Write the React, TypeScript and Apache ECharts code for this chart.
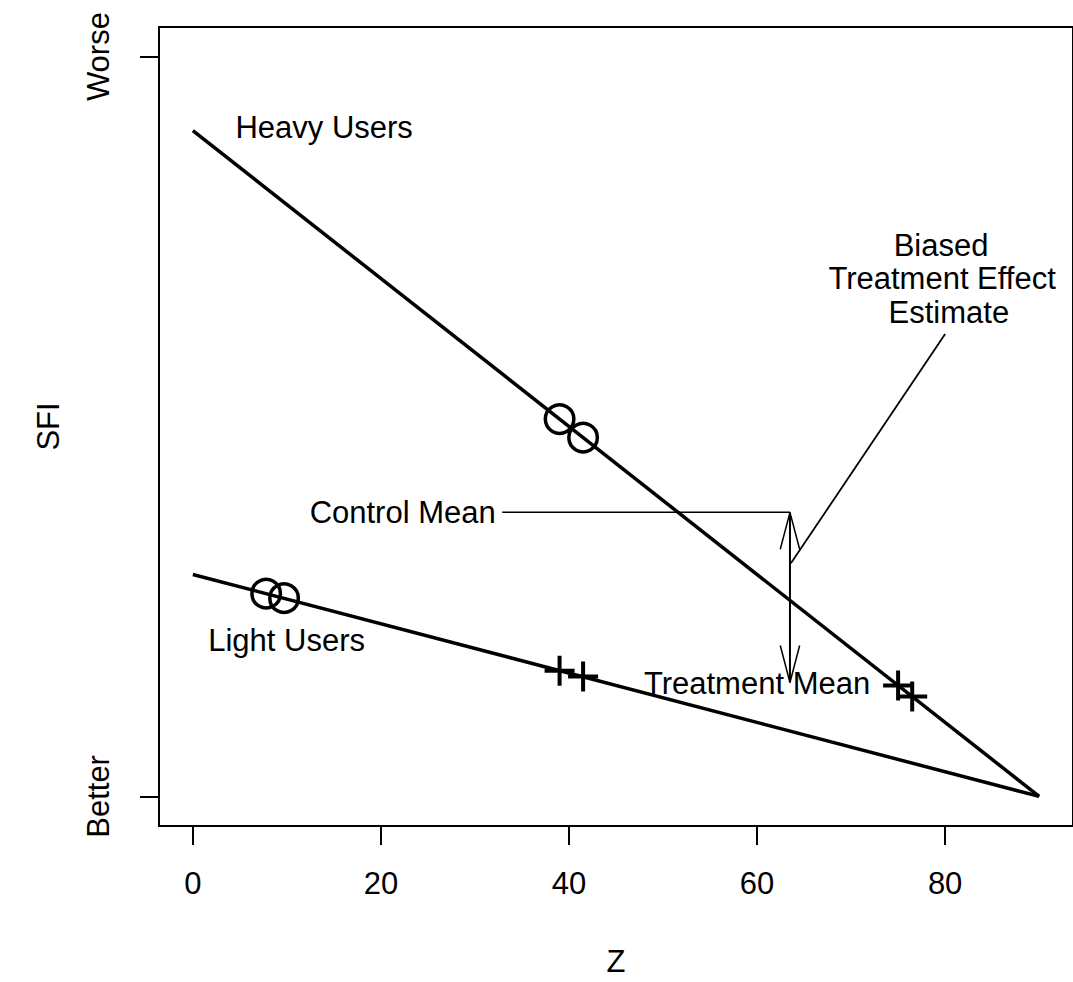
import React, { useEffect, useRef } from "react";
import * as echarts from "echarts";

// ---- data ----
const X_TICKS = [0, 20, 40, 60, 80];
const Y_TICKS = [0, 1];
const Y_TICK_LABELS = ["Better", "Worse"];

const HEAVY_LINE = [[0, 0.9], [90, 0]];
const LIGHT_LINE = [[0, 0.3], [90, 0]];

const CIRCLES_HEAVY = [[39, 0.51], [41.5, 0.485]];
const CIRCLES_LIGHT = [[7.8, 0.274], [9.7, 0.268]];
const PLUS_LIGHT = [[39, 0.17], [41.5, 0.162]];
const PLUS_HEAVY = [[75, 0.15], [76.5, 0.135]];

const CONTROL_MEAN = 0.384;
const TREATMENT_MEAN = 0.154;
const ARROW_X = 63.5;
const CONTROL_LINE_START = 32.9;
const HEAD_DX = 1.03;
const HEAD_DY = 0.05;
const BIAS_POINTER = [[63.6, 0.315], [80, 0.625]];

const LABEL_NAMES = ["Heavy Users", "Light Users", "Treatment Mean", "Biased", "Treatment Effect", "Estimate"];
const LABEL_X = [13.96, 9.97, 60, 79.57, 79.68, 80.4];
const LABEL_Y = [0.904, 0.211, 0.153, 0.745, 0.6995, 0.6535];

const FONT = "'Liberation Sans', Arial, Helvetica, sans-serif";
const FS = 31;

export default function App() {
  const ref = useRef<HTMLDivElement>(null);
  useEffect(() => {
    if (!ref.current) return;
    const chart = echarts.init(ref.current, null, { renderer: "svg" });
    const black = "#000";
    const lineSeries = (data: number[][], width: number) => ({
      type: "line",
      data,
      symbol: "none",
      silent: true,
      lineStyle: { color: black, width },
      z: 3,
    });
    const plusPath = "path://M15,0 L15,30 M0,15 L30,15";
    const option: any = {
      animation: false,
      textStyle: { fontFamily: FONT },
      grid: {
        left: 159,
        top: 27,
        width: 916,
        height: 799,
        show: true,
        borderColor: black,
        borderWidth: 2,
        backgroundColor: "transparent",
      },
      xAxis: {
        type: "value",
        min: -3.6,
        max: 93.6,
        name: "Z",
        nameLocation: "middle",
        nameGap: 120,
        nameTextStyle: { fontSize: FS, color: black, fontFamily: FONT },
        splitLine: { show: false },
        axisLine: { show: false, onZero: false },
        axisTick: { show: true, inside: false, length: 19, lineStyle: { color: black, width: 2 }, customValues: X_TICKS },
        axisLabel: { show: true, fontSize: FS, color: black, margin: 42, fontFamily: FONT, customValues: X_TICKS },
      },
      yAxis: {
        type: "value",
        min: -0.04,
        max: 1.04,
        name: "SFI",
        nameLocation: "middle",
        nameRotate: 90,
        nameGap: 95,
        nameTextStyle: { fontSize: FS, color: black, fontFamily: FONT },
        splitLine: { show: false },
        axisLine: { show: false, onZero: false },
        axisTick: { show: true, inside: false, length: 19, lineStyle: { color: black, width: 2 }, customValues: Y_TICKS },
        axisLabel: {
          show: true,
          fontSize: FS,
          color: black,
          rotate: 90,
          margin: 45,
          fontFamily: FONT,
          customValues: Y_TICKS,
          formatter: (v: number) => Y_TICK_LABELS[Y_TICKS.indexOf(v)] ?? "",
        },
      },
      series: [
        lineSeries(HEAVY_LINE, 3.5),
        lineSeries(LIGHT_LINE, 3.5),
        {
          type: "scatter",
          data: [...CIRCLES_HEAVY, ...CIRCLES_LIGHT],
          symbol: "circle",
          symbolSize: 28.5,
          itemStyle: { color: "rgba(0,0,0,0)", borderColor: black, borderWidth: 3.5, opacity: 1 },
          z: 4,
        },
        {
          type: "scatter",
          data: [...PLUS_LIGHT, ...PLUS_HEAVY],
          symbol: plusPath,
          symbolSize: 30,
          itemStyle: { color: "rgba(0,0,0,0)", borderColor: black, borderWidth: 4, opacity: 1 },
          z: 4,
        },
        lineSeries([[CONTROL_LINE_START, CONTROL_MEAN], [ARROW_X, CONTROL_MEAN]], 1.5),
        lineSeries([[ARROW_X, CONTROL_MEAN], [ARROW_X, TREATMENT_MEAN]], 2),
        lineSeries(
          [
            [ARROW_X - HEAD_DX, CONTROL_MEAN - HEAD_DY],
            [ARROW_X, CONTROL_MEAN],
            [ARROW_X + HEAD_DX, CONTROL_MEAN - HEAD_DY],
          ],
          1.5
        ),
        lineSeries(
          [
            [ARROW_X - HEAD_DX, TREATMENT_MEAN + HEAD_DY],
            [ARROW_X, TREATMENT_MEAN],
            [ARROW_X + HEAD_DX, TREATMENT_MEAN + HEAD_DY],
          ],
          1.5
        ),
        lineSeries(BIAS_POINTER, 1.8),
        {
          type: "scatter",
          symbol: "circle",
          symbolSize: 1,
          itemStyle: { color: "rgba(0,0,0,0)", opacity: 1 },
          silent: true,
          z: 5,
          data: [
            ...LABEL_NAMES.map((n, i) => ({
              name: n,
              value: [LABEL_X[i], LABEL_Y[i]],
              label: { position: "inside" },
            })),
            {
              name: "Control Mean",
              value: [CONTROL_LINE_START, CONTROL_MEAN],
              label: { position: "left", distance: 6 },
            },
          ],
          label: {
            show: true,
            formatter: "{b}",
            fontSize: FS,
            color: black,
            fontFamily: FONT,
          },
        },
      ],
    };
    chart.setOption(option);
    return () => chart.dispose();
  }, []);
  return (
    <div
      ref={ref}
      style={{ position: "fixed", left: 0, top: 0, width: 1073, height: 982, background: "#fff" }}
    />
  );
}
